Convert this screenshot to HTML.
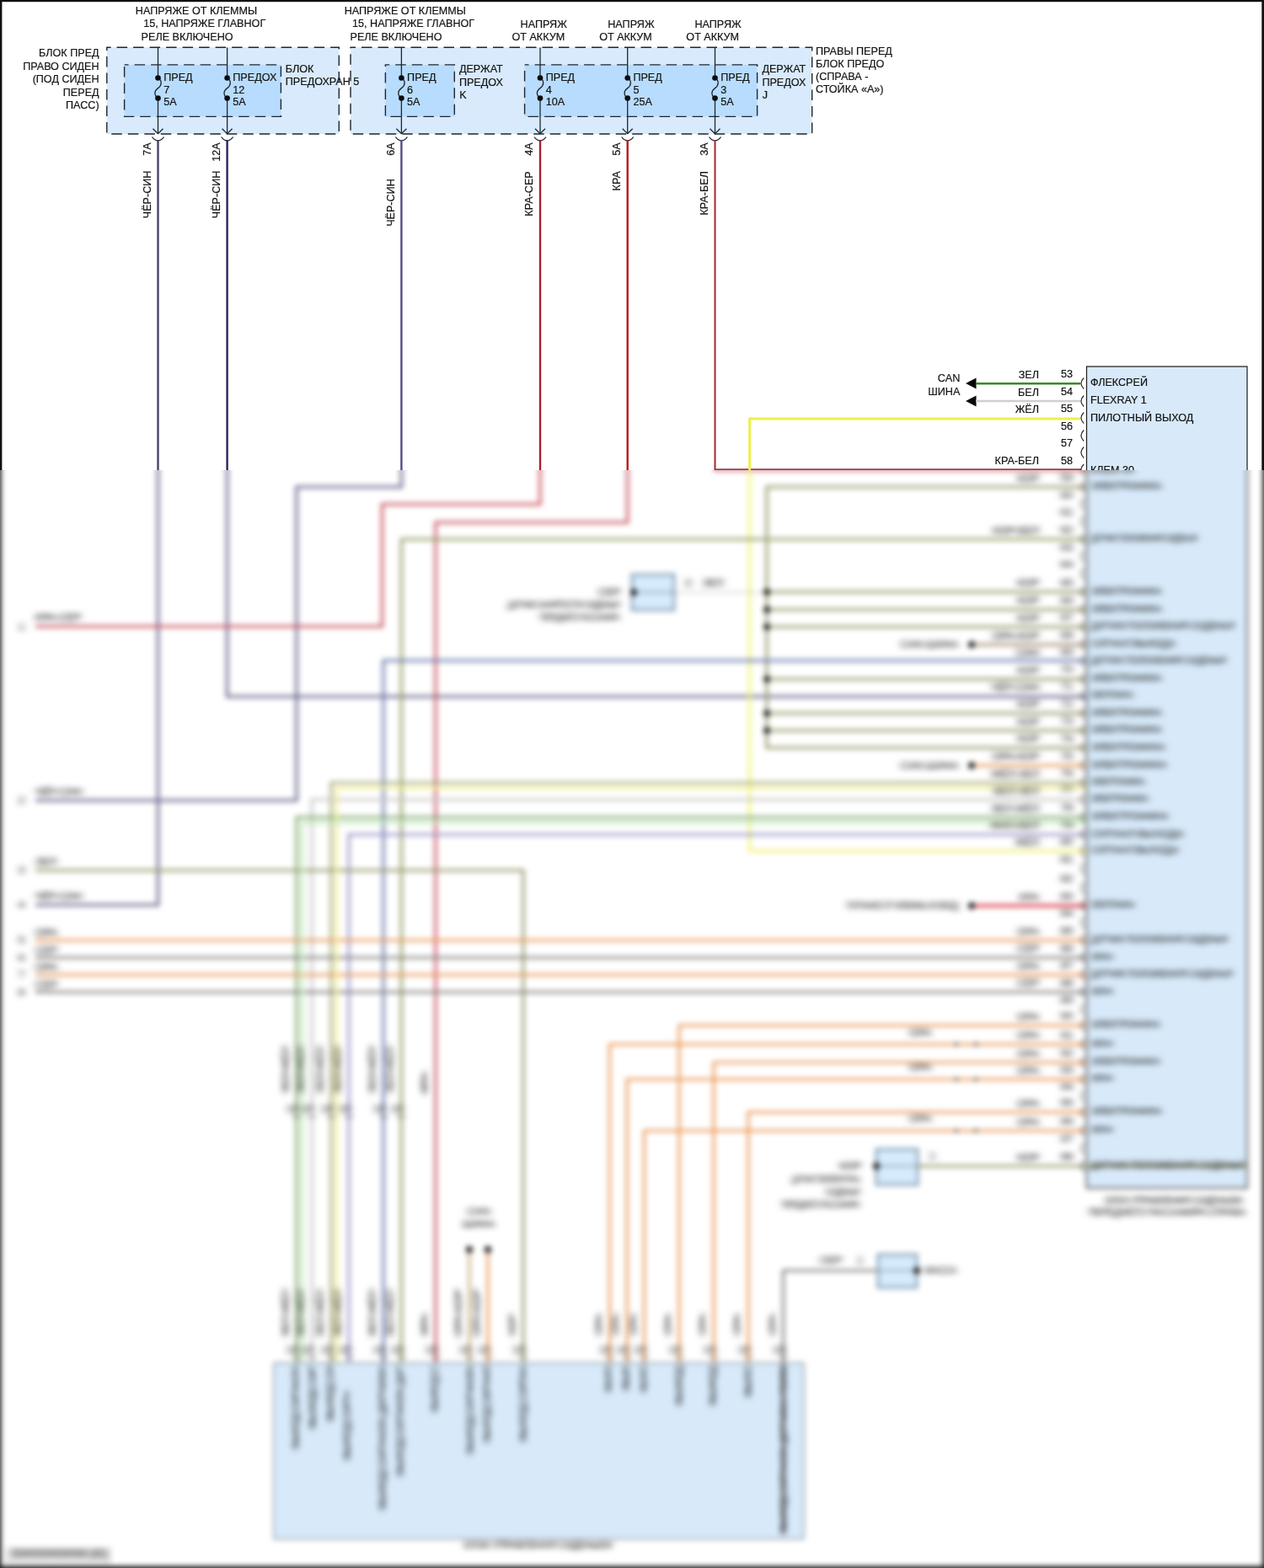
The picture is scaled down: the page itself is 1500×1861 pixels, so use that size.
<!DOCTYPE html>
<html lang="ru"><head><meta charset="utf-8"><title>Схема</title>
<style>
html,body{margin:0;padding:0;background:#fff;}
body{width:1500px;height:1861px;position:relative;overflow:hidden;}
svg{display:block;}
svg text{font-family:"Liberation Sans",Arial,sans-serif;font-size:12.6px;fill:#141414;}
#sharp{position:absolute;left:0;top:0;}
#sharp text{stroke:#141414;stroke-width:0.2px;}
#blurwrap{position:absolute;left:0;top:558px;width:1500px;height:1303px;overflow:hidden;}
#blurwrap svg{position:absolute;left:-40px;top:-598px;filter:blur(3.0px);}
#bt text,#btr text{font-weight:normal;}
</style></head><body>
<svg id="sharp" width="1500" height="1861" viewBox="0 0 1500 1861">
<rect x="0" y="0" width="1500" height="1861" fill="#fff"/>
<rect x="0" y="0" width="1500" height="2.2" fill="#111"/>
<rect x="0" y="0" width="2.4" height="1861" fill="#111"/>
<rect x="1497.3" y="0" width="2.7" height="1861" fill="#111"/>
<rect x="126.8" y="56.2" width="275.5" height="102.8" fill="#d8eafc"/>
<path d="M126.8,56.2 H402.3 V159 H126.8 Z" fill="none" stroke="#1e2630" stroke-width="1.4" stroke-dasharray="12.5 7" stroke-dashoffset="7.7"/>
<rect x="416.0" y="56.2" width="547.7" height="102.8" fill="#d8eafc"/>
<path d="M416.0,56.2 H963.7 V159 H416.0 Z" fill="none" stroke="#1e2630" stroke-width="1.4" stroke-dasharray="12.5 7" stroke-dashoffset="6.5"/>
<rect x="147.6" y="76.9" width="185.79999999999998" height="61.5" fill="#b8dcfe"/>
<path d="M147.6,76.9 H333.4 V138.4 H147.6 Z" fill="none" stroke="#1e2630" stroke-width="1.4" stroke-dasharray="12.5 7" stroke-dashoffset="7.5"/>
<rect x="457.4" y="76.9" width="81.89999999999998" height="61.5" fill="#b8dcfe"/>
<path d="M457.4,76.9 H539.3 V138.4 H457.4 Z" fill="none" stroke="#1e2630" stroke-width="1.4" stroke-dasharray="12.5 7" stroke-dashoffset="7.7"/>
<rect x="622.6" y="76.9" width="276.0" height="61.5" fill="#b8dcfe"/>
<path d="M622.6,76.9 H898.6 V138.4 H622.6 Z" fill="none" stroke="#1e2630" stroke-width="1.4" stroke-dasharray="12.5 7" stroke-dashoffset="7.5"/>
<text x="160.8" y="17.1" fill="#141414">НАПРЯЖЕ ОТ КЛЕММЫ</text>
<text x="170.2" y="32.4" fill="#141414">15, НАПРЯЖЕ ГЛАВНОГ</text>
<text x="167.6" y="47.7" fill="#141414">РЕЛЕ ВКЛЮЧЕНО</text>
<text x="408.70000000000005" y="17.1" fill="#141414">НАПРЯЖЕ ОТ КЛЕММЫ</text>
<text x="418.1" y="32.4" fill="#141414">15, НАПРЯЖЕ ГЛАВНОГ</text>
<text x="415.5" y="47.7" fill="#141414">РЕЛЕ ВКЛЮЧЕНО</text>
<text x="645.2" y="33.0" text-anchor="middle" fill="#141414">НАПРЯЖ</text>
<text x="638.8" y="48.2" text-anchor="middle" fill="#141414">ОТ АККУМ</text>
<text x="748.9000000000001" y="33.0" text-anchor="middle" fill="#141414">НАПРЯЖ</text>
<text x="742.5" y="48.2" text-anchor="middle" fill="#141414">ОТ АККУМ</text>
<text x="852.1" y="33.0" text-anchor="middle" fill="#141414">НАПРЯЖ</text>
<text x="845.6999999999999" y="48.2" text-anchor="middle" fill="#141414">ОТ АККУМ</text>
<text x="117.6" y="67.0" text-anchor="end" fill="#141414">БЛОК ПРЕД</text>
<text x="117.6" y="82.5" text-anchor="end" fill="#141414">ПРАВО СИДЕН</text>
<text x="117.6" y="98.0" text-anchor="end" fill="#141414">(ПОД СИДЕН</text>
<text x="117.6" y="113.5" text-anchor="end" fill="#141414">ПЕРЕД</text>
<text x="117.6" y="129.0" text-anchor="end" fill="#141414">ПАСС)</text>
<text x="338.8" y="85.6" fill="#142030">БЛОК</text>
<text x="338.8" y="101.1" fill="#142030">ПРЕДОХРАН 5</text>
<text x="544.9" y="86.0" fill="#142030">ДЕРЖАТ</text>
<text x="544.9" y="101.5" fill="#142030">ПРЕДОХ</text>
<text x="545.1999999999999" y="117.0" fill="#142030">K</text>
<text x="904.4" y="86.0" fill="#142030">ДЕРЖАТ</text>
<text x="904.4" y="101.5" fill="#142030">ПРЕДОХ</text>
<text x="904.6999999999999" y="117.0" fill="#142030">J</text>
<text x="968.0" y="65.3" fill="#141414">ПРАВЫ ПЕРЕД</text>
<text x="968.0" y="80.35" fill="#141414">БЛОК ПРЕДО</text>
<text x="968.0" y="95.4" fill="#141414">(СПРАВА -</text>
<text x="968.0" y="110.45" fill="#141414">СТОЙКА «A»)</text>
<line x1="187.5" y1="56.5" x2="187.5" y2="92.4" stroke="#1e2630" stroke-width="1.3"/>
<path d="M187.5,92.5 C192.7,95.5 192.1,101.5 187.5,104.6 C182.9,107.8 182.5,113 187.5,116.6" fill="none" stroke="#1e2630" stroke-width="1.3"/>
<line x1="187.5" y1="116.4" x2="187.5" y2="158.6" stroke="#1e2630" stroke-width="1.3"/>
<circle cx="187.5" cy="92.5" r="3.3" fill="#0d0d0d"/>
<circle cx="187.5" cy="116.6" r="3.3" fill="#0d0d0d"/>
<path d="M181.5,152.8 L187.5,158.7 L193.5,152.8" fill="none" stroke="#1e2630" stroke-width="1.3"/>
<path d="M180.5,162.5 Q183.5,166.9 187.5,166.9 Q191.5,166.9 194.5,162.5" fill="none" stroke="#1e2630" stroke-width="1.3"/>
<text x="194.2" y="96.1" fill="#142030">ПРЕД</text>
<text x="194.2" y="111.0" fill="#142030">7</text>
<text x="194.2" y="124.8" fill="#142030">5A</text>
<text transform="translate(178.9,169.3) rotate(-90)" text-anchor="end" fill="#141414">7A</text>
<text transform="translate(178.9,202.6) rotate(-90)" text-anchor="end" fill="#141414">ЧЁР-СИН</text>
<line x1="187.5" y1="166.2" x2="187.5" y2="560" stroke="#4a4468" stroke-width="2.4"/>
<line x1="269.6" y1="56.5" x2="269.6" y2="92.4" stroke="#1e2630" stroke-width="1.3"/>
<path d="M269.6,92.5 C274.8,95.5 274.20000000000005,101.5 269.6,104.6 C265.0,107.8 264.6,113 269.6,116.6" fill="none" stroke="#1e2630" stroke-width="1.3"/>
<line x1="269.6" y1="116.4" x2="269.6" y2="158.6" stroke="#1e2630" stroke-width="1.3"/>
<circle cx="269.6" cy="92.5" r="3.3" fill="#0d0d0d"/>
<circle cx="269.6" cy="116.6" r="3.3" fill="#0d0d0d"/>
<path d="M263.6,152.8 L269.6,158.7 L275.6,152.8" fill="none" stroke="#1e2630" stroke-width="1.3"/>
<path d="M262.6,162.5 Q265.6,166.9 269.6,166.9 Q273.6,166.9 276.6,162.5" fill="none" stroke="#1e2630" stroke-width="1.3"/>
<text x="276.3" y="96.1" fill="#142030">ПРЕДОХ</text>
<text x="276.3" y="111.0" fill="#142030">12</text>
<text x="276.3" y="124.8" fill="#142030">5A</text>
<text transform="translate(261.0,169.3) rotate(-90)" text-anchor="end" fill="#141414">12A</text>
<text transform="translate(261.0,202.6) rotate(-90)" text-anchor="end" fill="#141414">ЧЁР-СИН</text>
<line x1="269.6" y1="166.2" x2="269.6" y2="560" stroke="#28245e" stroke-width="2.4"/>
<line x1="476.4" y1="56.5" x2="476.4" y2="92.4" stroke="#1e2630" stroke-width="1.3"/>
<path d="M476.4,92.5 C481.59999999999997,95.5 481.0,101.5 476.4,104.6 C471.79999999999995,107.8 471.4,113 476.4,116.6" fill="none" stroke="#1e2630" stroke-width="1.3"/>
<line x1="476.4" y1="116.4" x2="476.4" y2="158.6" stroke="#1e2630" stroke-width="1.3"/>
<circle cx="476.4" cy="92.5" r="3.3" fill="#0d0d0d"/>
<circle cx="476.4" cy="116.6" r="3.3" fill="#0d0d0d"/>
<path d="M470.4,152.8 L476.4,158.7 L482.4,152.8" fill="none" stroke="#1e2630" stroke-width="1.3"/>
<path d="M469.4,162.5 Q472.4,166.9 476.4,166.9 Q480.4,166.9 483.4,162.5" fill="none" stroke="#1e2630" stroke-width="1.3"/>
<text x="483.09999999999997" y="96.1" fill="#142030">ПРЕД</text>
<text x="483.09999999999997" y="111.0" fill="#142030">6</text>
<text x="483.09999999999997" y="124.8" fill="#142030">5A</text>
<text transform="translate(467.79999999999995,169.3) rotate(-90)" text-anchor="end" fill="#141414">6A</text>
<text transform="translate(467.79999999999995,212.2) rotate(-90)" text-anchor="end" fill="#141414">ЧЁР-СИН</text>
<line x1="476.4" y1="166.2" x2="476.4" y2="560" stroke="#554c88" stroke-width="2.4"/>
<line x1="641.0" y1="56.5" x2="641.0" y2="92.4" stroke="#1e2630" stroke-width="1.3"/>
<path d="M641.0,92.5 C646.2,95.5 645.6,101.5 641.0,104.6 C636.4,107.8 636.0,113 641.0,116.6" fill="none" stroke="#1e2630" stroke-width="1.3"/>
<line x1="641.0" y1="116.4" x2="641.0" y2="158.6" stroke="#1e2630" stroke-width="1.3"/>
<circle cx="641.0" cy="92.5" r="3.3" fill="#0d0d0d"/>
<circle cx="641.0" cy="116.6" r="3.3" fill="#0d0d0d"/>
<path d="M635.0,152.8 L641.0,158.7 L647.0,152.8" fill="none" stroke="#1e2630" stroke-width="1.3"/>
<path d="M634.0,162.5 Q637.0,166.9 641.0,166.9 Q645.0,166.9 648.0,162.5" fill="none" stroke="#1e2630" stroke-width="1.3"/>
<text x="647.7" y="96.1" fill="#142030">ПРЕД</text>
<text x="647.7" y="111.0" fill="#142030">4</text>
<text x="647.7" y="124.8" fill="#142030">10A</text>
<text transform="translate(632.4,169.3) rotate(-90)" text-anchor="end" fill="#141414">4A</text>
<text transform="translate(632.4,203.3) rotate(-90)" text-anchor="end" fill="#141414">КРА-СЕР</text>
<line x1="641.0" y1="166.2" x2="641.0" y2="560" stroke="#a82030" stroke-width="2.4"/>
<line x1="744.7" y1="56.5" x2="744.7" y2="92.4" stroke="#1e2630" stroke-width="1.3"/>
<path d="M744.7,92.5 C749.9000000000001,95.5 749.3000000000001,101.5 744.7,104.6 C740.1,107.8 739.7,113 744.7,116.6" fill="none" stroke="#1e2630" stroke-width="1.3"/>
<line x1="744.7" y1="116.4" x2="744.7" y2="158.6" stroke="#1e2630" stroke-width="1.3"/>
<circle cx="744.7" cy="92.5" r="3.3" fill="#0d0d0d"/>
<circle cx="744.7" cy="116.6" r="3.3" fill="#0d0d0d"/>
<path d="M738.7,152.8 L744.7,158.7 L750.7,152.8" fill="none" stroke="#1e2630" stroke-width="1.3"/>
<path d="M737.7,162.5 Q740.7,166.9 744.7,166.9 Q748.7,166.9 751.7,162.5" fill="none" stroke="#1e2630" stroke-width="1.3"/>
<text x="751.4000000000001" y="96.1" fill="#142030">ПРЕД</text>
<text x="751.4000000000001" y="111.0" fill="#142030">5</text>
<text x="751.4000000000001" y="124.8" fill="#142030">25A</text>
<text transform="translate(736.1,169.3) rotate(-90)" text-anchor="end" fill="#141414">5A</text>
<text transform="translate(736.1,203.1) rotate(-90)" text-anchor="end" fill="#141414">КРА</text>
<line x1="744.7" y1="166.2" x2="744.7" y2="560" stroke="#b51a16" stroke-width="2.4"/>
<line x1="848.5" y1="56.5" x2="848.5" y2="92.4" stroke="#1e2630" stroke-width="1.3"/>
<path d="M848.5,92.5 C853.7,95.5 853.1,101.5 848.5,104.6 C843.9,107.8 843.5,113 848.5,116.6" fill="none" stroke="#1e2630" stroke-width="1.3"/>
<line x1="848.5" y1="116.4" x2="848.5" y2="158.6" stroke="#1e2630" stroke-width="1.3"/>
<circle cx="848.5" cy="92.5" r="3.3" fill="#0d0d0d"/>
<circle cx="848.5" cy="116.6" r="3.3" fill="#0d0d0d"/>
<path d="M842.5,152.8 L848.5,158.7 L854.5,152.8" fill="none" stroke="#1e2630" stroke-width="1.3"/>
<path d="M841.5,162.5 Q844.5,166.9 848.5,166.9 Q852.5,166.9 855.5,162.5" fill="none" stroke="#1e2630" stroke-width="1.3"/>
<text x="855.2" y="96.1" fill="#142030">ПРЕД</text>
<text x="855.2" y="111.0" fill="#142030">3</text>
<text x="855.2" y="124.8" fill="#142030">5A</text>
<text transform="translate(839.9,169.3) rotate(-90)" text-anchor="end" fill="#141414">3A</text>
<text transform="translate(839.9,203.1) rotate(-90)" text-anchor="end" fill="#141414">КРА-БЕЛ</text>
<line x1="848.5" y1="166.2" x2="848.5" y2="558" stroke="#a02a2c" stroke-width="2.0"/>
<line x1="848.5" y1="557.2" x2="1283" y2="557.2" stroke="#8e4446" stroke-width="1.7"/>
<rect x="1289.5" y="435" width="190.5" height="975" fill="#d8eafa" stroke="#222" stroke-width="1.25"/>
<text x="1139.3" y="453.3" text-anchor="end" fill="#141414">CAN</text>
<text x="1139.3" y="468.8" text-anchor="end" fill="#141414">ШИНА</text>
<path d="M1146,455 L1158.5,448.4 L1158.5,461.6 Z" fill="#0a0a0a"/>
<path d="M1146,476 L1158.5,469.4 L1158.5,482.6 Z" fill="#0a0a0a"/>
<line x1="1158" y1="455.3" x2="1282" y2="455.3" stroke="#3a8a22" stroke-width="2.6"/>
<line x1="1158" y1="476" x2="1282" y2="476" stroke="#cfcfcf" stroke-width="2.6"/>
<line x1="889.6" y1="497" x2="1282" y2="497" stroke="#eef048" stroke-width="2.9"/>
<line x1="889.6" y1="495.5" x2="889.6" y2="562" stroke="#eef048" stroke-width="2.9"/>
<text x="1259.0" y="448" fill="#141414">53</text>
<text x="1233.0" y="448.5" text-anchor="end" fill="#141414">ЗЕЛ</text>
<path d="M1286.2,448.5 Q1279.6,455 1286.2,461.5" fill="none" stroke="#222" stroke-width="1.2"/>
<text x="1259.0" y="469" fill="#141414">54</text>
<text x="1233.0" y="469.5" text-anchor="end" fill="#141414">БЕЛ</text>
<path d="M1286.2,469.5 Q1279.6,476 1286.2,482.5" fill="none" stroke="#222" stroke-width="1.2"/>
<text x="1259.0" y="489" fill="#141414">55</text>
<text x="1233.0" y="489.5" text-anchor="end" fill="#141414">ЖЁЛ</text>
<path d="M1286.2,489.5 Q1279.6,496 1286.2,502.5" fill="none" stroke="#222" stroke-width="1.2"/>
<text x="1259.0" y="510" fill="#141414">56</text>
<path d="M1286.2,510.5 Q1279.6,517 1286.2,523.5" fill="none" stroke="#222" stroke-width="1.2"/>
<text x="1259.0" y="530" fill="#141414">57</text>
<path d="M1286.2,530.5 Q1279.6,537 1286.2,543.5" fill="none" stroke="#222" stroke-width="1.2"/>
<text x="1259.0" y="550.5" fill="#141414">58</text>
<text x="1233.0" y="551.0" text-anchor="end" fill="#141414">КРА-БЕЛ</text>
<path d="M1286.2,551.0 Q1279.6,557.5 1286.2,564.0" fill="none" stroke="#222" stroke-width="1.2"/>
<text x="1294.0" y="458.0" fill="#142030">ФЛЕКСРЕЙ</text>
<text x="1294.0" y="478.8" fill="#142030">FLEXRAY 1</text>
<text x="1294.0" y="499.6" fill="#142030">ПИЛОТНЫЙ ВЫХОД</text>
<text x="1294.0" y="561.5" fill="#142030">КЛЕМ 30</text>
</svg>
<div id="blurwrap"><svg width="1580" height="1941" viewBox="-40 -40 1580 1941">
<defs><filter id="tb" x="-5%" y="-5%" width="110%" height="110%"><feGaussianBlur stdDeviation="3.0 0.8"/></filter>
<filter id="tbr" x="-5%" y="-5%" width="110%" height="110%"><feGaussianBlur stdDeviation="0.8 3.0"/></filter></defs>
<rect x="-40" y="-40" width="1580" height="1941" fill="#ffffff"/>
<rect x="126.8" y="56.2" width="275.5" height="102.8" fill="#d8eafc"/>
<path d="M126.8,56.2 H402.3 V159 H126.8 Z" fill="none" stroke="#1e2630" stroke-width="1.4" stroke-dasharray="12.5 7" stroke-dashoffset="7.7"/>
<rect x="416.0" y="56.2" width="547.7" height="102.8" fill="#d8eafc"/>
<path d="M416.0,56.2 H963.7 V159 H416.0 Z" fill="none" stroke="#1e2630" stroke-width="1.4" stroke-dasharray="12.5 7" stroke-dashoffset="6.5"/>
<rect x="147.6" y="76.9" width="185.79999999999998" height="61.5" fill="#b8dcfe"/>
<path d="M147.6,76.9 H333.4 V138.4 H147.6 Z" fill="none" stroke="#1e2630" stroke-width="1.4" stroke-dasharray="12.5 7" stroke-dashoffset="7.5"/>
<rect x="457.4" y="76.9" width="81.89999999999998" height="61.5" fill="#b8dcfe"/>
<path d="M457.4,76.9 H539.3 V138.4 H457.4 Z" fill="none" stroke="#1e2630" stroke-width="1.4" stroke-dasharray="12.5 7" stroke-dashoffset="7.7"/>
<rect x="622.6" y="76.9" width="276.0" height="61.5" fill="#b8dcfe"/>
<path d="M622.6,76.9 H898.6 V138.4 H622.6 Z" fill="none" stroke="#1e2630" stroke-width="1.4" stroke-dasharray="12.5 7" stroke-dashoffset="7.5"/>
<line x1="187.5" y1="56.5" x2="187.5" y2="92.4" stroke="#1e2630" stroke-width="1.3"/>
<path d="M187.5,92.5 C192.7,95.5 192.1,101.5 187.5,104.6 C182.9,107.8 182.5,113 187.5,116.6" fill="none" stroke="#1e2630" stroke-width="1.3"/>
<line x1="187.5" y1="116.4" x2="187.5" y2="158.6" stroke="#1e2630" stroke-width="1.3"/>
<circle cx="187.5" cy="92.5" r="3.3" fill="#0d0d0d"/>
<circle cx="187.5" cy="116.6" r="3.3" fill="#0d0d0d"/>
<path d="M181.5,152.8 L187.5,158.7 L193.5,152.8" fill="none" stroke="#1e2630" stroke-width="1.3"/>
<path d="M180.5,162.5 Q183.5,166.9 187.5,166.9 Q191.5,166.9 194.5,162.5" fill="none" stroke="#1e2630" stroke-width="1.3"/>
<line x1="187.5" y1="166.2" x2="187.5" y2="560" stroke="#4a4468" stroke-width="2.4"/>
<line x1="269.6" y1="56.5" x2="269.6" y2="92.4" stroke="#1e2630" stroke-width="1.3"/>
<path d="M269.6,92.5 C274.8,95.5 274.20000000000005,101.5 269.6,104.6 C265.0,107.8 264.6,113 269.6,116.6" fill="none" stroke="#1e2630" stroke-width="1.3"/>
<line x1="269.6" y1="116.4" x2="269.6" y2="158.6" stroke="#1e2630" stroke-width="1.3"/>
<circle cx="269.6" cy="92.5" r="3.3" fill="#0d0d0d"/>
<circle cx="269.6" cy="116.6" r="3.3" fill="#0d0d0d"/>
<path d="M263.6,152.8 L269.6,158.7 L275.6,152.8" fill="none" stroke="#1e2630" stroke-width="1.3"/>
<path d="M262.6,162.5 Q265.6,166.9 269.6,166.9 Q273.6,166.9 276.6,162.5" fill="none" stroke="#1e2630" stroke-width="1.3"/>
<line x1="269.6" y1="166.2" x2="269.6" y2="560" stroke="#28245e" stroke-width="2.4"/>
<line x1="476.4" y1="56.5" x2="476.4" y2="92.4" stroke="#1e2630" stroke-width="1.3"/>
<path d="M476.4,92.5 C481.59999999999997,95.5 481.0,101.5 476.4,104.6 C471.79999999999995,107.8 471.4,113 476.4,116.6" fill="none" stroke="#1e2630" stroke-width="1.3"/>
<line x1="476.4" y1="116.4" x2="476.4" y2="158.6" stroke="#1e2630" stroke-width="1.3"/>
<circle cx="476.4" cy="92.5" r="3.3" fill="#0d0d0d"/>
<circle cx="476.4" cy="116.6" r="3.3" fill="#0d0d0d"/>
<path d="M470.4,152.8 L476.4,158.7 L482.4,152.8" fill="none" stroke="#1e2630" stroke-width="1.3"/>
<path d="M469.4,162.5 Q472.4,166.9 476.4,166.9 Q480.4,166.9 483.4,162.5" fill="none" stroke="#1e2630" stroke-width="1.3"/>
<line x1="476.4" y1="166.2" x2="476.4" y2="560" stroke="#554c88" stroke-width="2.4"/>
<line x1="641.0" y1="56.5" x2="641.0" y2="92.4" stroke="#1e2630" stroke-width="1.3"/>
<path d="M641.0,92.5 C646.2,95.5 645.6,101.5 641.0,104.6 C636.4,107.8 636.0,113 641.0,116.6" fill="none" stroke="#1e2630" stroke-width="1.3"/>
<line x1="641.0" y1="116.4" x2="641.0" y2="158.6" stroke="#1e2630" stroke-width="1.3"/>
<circle cx="641.0" cy="92.5" r="3.3" fill="#0d0d0d"/>
<circle cx="641.0" cy="116.6" r="3.3" fill="#0d0d0d"/>
<path d="M635.0,152.8 L641.0,158.7 L647.0,152.8" fill="none" stroke="#1e2630" stroke-width="1.3"/>
<path d="M634.0,162.5 Q637.0,166.9 641.0,166.9 Q645.0,166.9 648.0,162.5" fill="none" stroke="#1e2630" stroke-width="1.3"/>
<line x1="641.0" y1="166.2" x2="641.0" y2="560" stroke="#a82030" stroke-width="2.4"/>
<line x1="744.7" y1="56.5" x2="744.7" y2="92.4" stroke="#1e2630" stroke-width="1.3"/>
<path d="M744.7,92.5 C749.9000000000001,95.5 749.3000000000001,101.5 744.7,104.6 C740.1,107.8 739.7,113 744.7,116.6" fill="none" stroke="#1e2630" stroke-width="1.3"/>
<line x1="744.7" y1="116.4" x2="744.7" y2="158.6" stroke="#1e2630" stroke-width="1.3"/>
<circle cx="744.7" cy="92.5" r="3.3" fill="#0d0d0d"/>
<circle cx="744.7" cy="116.6" r="3.3" fill="#0d0d0d"/>
<path d="M738.7,152.8 L744.7,158.7 L750.7,152.8" fill="none" stroke="#1e2630" stroke-width="1.3"/>
<path d="M737.7,162.5 Q740.7,166.9 744.7,166.9 Q748.7,166.9 751.7,162.5" fill="none" stroke="#1e2630" stroke-width="1.3"/>
<line x1="744.7" y1="166.2" x2="744.7" y2="560" stroke="#b51a16" stroke-width="2.4"/>
<line x1="848.5" y1="56.5" x2="848.5" y2="92.4" stroke="#1e2630" stroke-width="1.3"/>
<path d="M848.5,92.5 C853.7,95.5 853.1,101.5 848.5,104.6 C843.9,107.8 843.5,113 848.5,116.6" fill="none" stroke="#1e2630" stroke-width="1.3"/>
<line x1="848.5" y1="116.4" x2="848.5" y2="158.6" stroke="#1e2630" stroke-width="1.3"/>
<circle cx="848.5" cy="92.5" r="3.3" fill="#0d0d0d"/>
<circle cx="848.5" cy="116.6" r="3.3" fill="#0d0d0d"/>
<path d="M842.5,152.8 L848.5,158.7 L854.5,152.8" fill="none" stroke="#1e2630" stroke-width="1.3"/>
<path d="M841.5,162.5 Q844.5,166.9 848.5,166.9 Q852.5,166.9 855.5,162.5" fill="none" stroke="#1e2630" stroke-width="1.3"/>
<line x1="848.5" y1="166.2" x2="848.5" y2="558" stroke="#a02a2c" stroke-width="2.0"/>
<line x1="848.5" y1="557.2" x2="1283" y2="557.2" stroke="#8e4446" stroke-width="1.7"/>
<rect x="1289.5" y="435" width="190.5" height="975" fill="#d8eafa" stroke="#222" stroke-width="1.25"/>
<path d="M1146,455 L1158.5,448.4 L1158.5,461.6 Z" fill="#0a0a0a"/>
<path d="M1146,476 L1158.5,469.4 L1158.5,482.6 Z" fill="#0a0a0a"/>
<line x1="1158" y1="455.3" x2="1282" y2="455.3" stroke="#3a8a22" stroke-width="2.6"/>
<line x1="1158" y1="476" x2="1282" y2="476" stroke="#cfcfcf" stroke-width="2.6"/>
<line x1="889.6" y1="497" x2="1282" y2="497" stroke="#eef048" stroke-width="2.9"/>
<line x1="889.6" y1="495.5" x2="889.6" y2="562" stroke="#eef048" stroke-width="2.9"/>
<path d="M1286.2,448.5 Q1279.6,455 1286.2,461.5" fill="none" stroke="#222" stroke-width="1.2"/>
<path d="M1286.2,469.5 Q1279.6,476 1286.2,482.5" fill="none" stroke="#222" stroke-width="1.2"/>
<path d="M1286.2,489.5 Q1279.6,496 1286.2,502.5" fill="none" stroke="#222" stroke-width="1.2"/>
<path d="M1286.2,510.5 Q1279.6,517 1286.2,523.5" fill="none" stroke="#222" stroke-width="1.2"/>
<path d="M1286.2,530.5 Q1279.6,537 1286.2,543.5" fill="none" stroke="#222" stroke-width="1.2"/>
<path d="M1286.2,551.0 Q1279.6,557.5 1286.2,564.0" fill="none" stroke="#222" stroke-width="1.2"/>
<rect x="-40" y="-40" width="41.2" height="1941" fill="#111"/>
<rect x="1498.6" y="-40" width="41.4" height="1941" fill="#111"/>
<rect x="-40" y="1858.9" width="1580" height="42" fill="#111"/>
<rect x="1289.5" y="435" width="190.5" height="975" fill="#d8eafa" stroke="#2b2b2b" stroke-width="1.5"/>
<rect x="325" y="1617.5" width="629" height="209" fill="#d8eafa" stroke="#6a7884" stroke-width="1.2"/>
<rect x="750" y="682" width="50" height="42" fill="#d6ecfc" stroke="#8aa4bc" stroke-width="3.2"/>
<rect x="1040" y="1364" width="49" height="42" fill="#d6ecfc" stroke="#8aa4bc" stroke-width="3.2"/>
<rect x="1042" y="1489" width="46" height="39" fill="#d6ecfc" stroke="#8aa4bc" stroke-width="3.2"/>
<line x1="752" y1="703" x2="802" y2="703" stroke="#7a8a9a" stroke-width="1.6"/>
<line x1="1040" y1="1384" x2="1090" y2="1384" stroke="#7a8a9a" stroke-width="1.6"/>
<line x1="1040" y1="1508" x2="1088" y2="1508" stroke="#7a8a9a" stroke-width="1.6"/>
<polyline points="187.5,540 187.5,1074 42,1074" fill="none" stroke="#64628a" stroke-width="3.1" stroke-linejoin="miter" stroke-linecap="butt"/>
<polyline points="269.6,540 269.6,826.8 1289,826.8" fill="none" stroke="#64628a" stroke-width="3.1" stroke-linejoin="miter" stroke-linecap="butt"/>
<polyline points="476.4,540 476.4,578 352,578 352,950 42,950" fill="none" stroke="#64628a" stroke-width="3.1" stroke-linejoin="miter" stroke-linecap="butt"/>
<polyline points="641,540 641,598.5 453.5,598.5 453.5,743.5 42,743.5" fill="none" stroke="#c8505e" stroke-width="3.1" stroke-linejoin="miter" stroke-linecap="butt"/>
<polyline points="744.7,540 744.7,620 517,620 517,1617" fill="none" stroke="#c8505e" stroke-width="3.1" stroke-linejoin="miter" stroke-linecap="butt"/>
<polyline points="848.5,540 848.5,557.5 1289,557.5" fill="none" stroke="#c8505e" stroke-width="3.1" stroke-linejoin="miter" stroke-linecap="butt"/>
<polyline points="889.6,497 889.6,1010 1289,1010" fill="none" stroke="#f2f070" stroke-width="3.1" stroke-linejoin="miter" stroke-linecap="butt"/>
<polyline points="1289,578 910,578 910,887.5 1289,887.5" fill="none" stroke="#96986a" stroke-width="3.1" stroke-linejoin="miter" stroke-linecap="butt"/>
<polyline points="476.4,1617 476.4,640 1289,640" fill="none" stroke="#909f62" stroke-width="3.1" stroke-linejoin="miter" stroke-linecap="butt"/>
<polyline points="455,1617 455,784 1289,784" fill="none" stroke="#6a78ae" stroke-width="3.1" stroke-linejoin="miter" stroke-linecap="butt"/>
<polyline points="393,1617 393,929 1289,929" fill="none" stroke="#a8aa78" stroke-width="3.1" stroke-linejoin="miter" stroke-linecap="butt"/>
<polyline points="370,1617 370,949 1289,949" fill="none" stroke="#c8c8c8" stroke-width="3.1" stroke-linejoin="miter" stroke-linecap="butt"/>
<polyline points="352,1617 352,970 1289,970" fill="none" stroke="#80a870" stroke-width="3.1" stroke-linejoin="miter" stroke-linecap="butt"/>
<polyline points="414,1617 414,990.5 1289,990.5" fill="none" stroke="#9a94c8" stroke-width="3.1" stroke-linejoin="miter" stroke-linecap="butt"/>
<polyline points="42,1033 621,1033 621,1617" fill="none" stroke="#96986a" stroke-width="3.1" stroke-linejoin="miter" stroke-linecap="butt"/>
<polyline points="42,1116 1289,1116" fill="none" stroke="#eb9a5c" stroke-width="3.1" stroke-linejoin="miter" stroke-linecap="butt"/>
<polyline points="42,1136.5 1289,1136.5" fill="none" stroke="#858585" stroke-width="3.1" stroke-linejoin="miter" stroke-linecap="butt"/>
<polyline points="42,1157 1289,1157" fill="none" stroke="#eb9a5c" stroke-width="3.1" stroke-linejoin="miter" stroke-linecap="butt"/>
<polyline points="42,1177.5 1289,1177.5" fill="none" stroke="#858585" stroke-width="3.1" stroke-linejoin="miter" stroke-linecap="butt"/>
<polyline points="806,1617 806,1217 1289,1217" fill="none" stroke="#eb9a5c" stroke-width="3.1" stroke-linejoin="miter" stroke-linecap="butt"/>
<polyline points="723.5,1617 723.5,1239.5 1289,1239.5" fill="none" stroke="#eb9a5c" stroke-width="3.1" stroke-linejoin="miter" stroke-linecap="butt"/>
<polyline points="847,1617 847,1261 1289,1261" fill="none" stroke="#eb9a5c" stroke-width="3.1" stroke-linejoin="miter" stroke-linecap="butt"/>
<polyline points="744,1617 744,1281 1289,1281" fill="none" stroke="#eb9a5c" stroke-width="3.1" stroke-linejoin="miter" stroke-linecap="butt"/>
<polyline points="888,1617 888,1320 1289,1320" fill="none" stroke="#eb9a5c" stroke-width="3.1" stroke-linejoin="miter" stroke-linecap="butt"/>
<polyline points="764.5,1617 764.5,1342 1289,1342" fill="none" stroke="#eb9a5c" stroke-width="3.1" stroke-linejoin="miter" stroke-linecap="butt"/>
<polyline points="929.5,1820 929.5,1508 1040,1508" fill="none" stroke="#858585" stroke-width="3.1" stroke-linejoin="miter" stroke-linecap="butt"/>
<polyline points="557,1483 557,1617" fill="none" stroke="#c8b080" stroke-width="3.1" stroke-linejoin="miter" stroke-linecap="butt"/>
<polyline points="579,1483 579,1617" fill="none" stroke="#eb9a5c" stroke-width="3.1" stroke-linejoin="miter" stroke-linecap="butt"/>
<polyline points="399.5,1617 399.5,935.5 1289,935.5" fill="none" stroke="#f4ee90" stroke-width="3.0" stroke-linejoin="miter" stroke-linecap="butt"/>
<polyline points="359,1617 359,976.5 1289,976.5" fill="none" stroke="#c0e8b8" stroke-width="3.0" stroke-linejoin="miter" stroke-linecap="butt"/>
<line x1="910" y1="702.5" x2="1289" y2="702.5" stroke="#96986a" stroke-width="3.1"/>
<line x1="910" y1="723.5" x2="1289" y2="723.5" stroke="#96986a" stroke-width="3.1"/>
<line x1="910" y1="744" x2="1289" y2="744" stroke="#96986a" stroke-width="3.1"/>
<line x1="910" y1="806" x2="1289" y2="806" stroke="#96986a" stroke-width="3.1"/>
<line x1="910" y1="846.5" x2="1289" y2="846.5" stroke="#96986a" stroke-width="3.1"/>
<line x1="910" y1="867" x2="1289" y2="867" stroke="#96986a" stroke-width="3.1"/>
<line x1="1153" y1="765" x2="1289" y2="765" stroke="#a08a70" stroke-width="3.1"/>
<line x1="1153" y1="908.5" x2="1289" y2="908.5" stroke="#eb9a5c" stroke-width="3.1"/>
<line x1="1153" y1="1075" x2="1289" y2="1075" stroke="#d83848" stroke-width="3.4"/>
<line x1="1090" y1="1384" x2="1480" y2="1384" stroke="#96986a" stroke-width="3.1"/>
<line x1="802" y1="703" x2="910" y2="703" stroke="#c8c8c8" stroke-width="1.5"/>
<circle cx="910" cy="702.5" r="3.8" fill="#111"/>
<circle cx="910" cy="723.5" r="3.8" fill="#111"/>
<circle cx="910" cy="744" r="3.8" fill="#111"/>
<circle cx="910" cy="806" r="3.8" fill="#111"/>
<circle cx="910" cy="846.5" r="3.8" fill="#111"/>
<circle cx="910" cy="867" r="3.8" fill="#111"/>
<circle cx="1153" cy="765" r="4.2" fill="#222"/>
<circle cx="1153" cy="908.5" r="4.2" fill="#222"/>
<circle cx="1153" cy="1075" r="4.2" fill="#222"/>
<circle cx="752" cy="703" r="4.2" fill="#222"/>
<circle cx="1040" cy="1384" r="4.2" fill="#222"/>
<circle cx="1088" cy="1508" r="4.2" fill="#222"/>
<circle cx="557" cy="1483" r="4.2" fill="#222"/>
<circle cx="579" cy="1483" r="4.2" fill="#222"/>
<path d="M1286.2,571.5 Q1279.6,578 1286.2,584.5" fill="none" stroke="#333" stroke-width="1.2"/>
<path d="M1286.2,592.0 Q1279.6,598.5 1286.2,605.0" fill="none" stroke="#333" stroke-width="1.2"/>
<path d="M1286.2,612.5 Q1279.6,619 1286.2,625.5" fill="none" stroke="#333" stroke-width="1.2"/>
<path d="M1286.2,633.5 Q1279.6,640 1286.2,646.5" fill="none" stroke="#333" stroke-width="1.2"/>
<path d="M1286.2,654.0 Q1279.6,660.5 1286.2,667.0" fill="none" stroke="#333" stroke-width="1.2"/>
<path d="M1286.2,674.5 Q1279.6,681 1286.2,687.5" fill="none" stroke="#333" stroke-width="1.2"/>
<path d="M1286.2,696.0 Q1279.6,702.5 1286.2,709.0" fill="none" stroke="#333" stroke-width="1.2"/>
<path d="M1286.2,717.0 Q1279.6,723.5 1286.2,730.0" fill="none" stroke="#333" stroke-width="1.2"/>
<path d="M1286.2,737.5 Q1279.6,744 1286.2,750.5" fill="none" stroke="#333" stroke-width="1.2"/>
<path d="M1286.2,758.5 Q1279.6,765 1286.2,771.5" fill="none" stroke="#333" stroke-width="1.2"/>
<path d="M1286.2,778.5 Q1279.6,785 1286.2,791.5" fill="none" stroke="#333" stroke-width="1.2"/>
<path d="M1286.2,799.5 Q1279.6,806 1286.2,812.5" fill="none" stroke="#333" stroke-width="1.2"/>
<path d="M1286.2,819.5 Q1279.6,826 1286.2,832.5" fill="none" stroke="#333" stroke-width="1.2"/>
<path d="M1286.2,840.0 Q1279.6,846.5 1286.2,853.0" fill="none" stroke="#333" stroke-width="1.2"/>
<path d="M1286.2,860.5 Q1279.6,867 1286.2,873.5" fill="none" stroke="#333" stroke-width="1.2"/>
<path d="M1286.2,881.0 Q1279.6,887.5 1286.2,894.0" fill="none" stroke="#333" stroke-width="1.2"/>
<path d="M1286.2,902.0 Q1279.6,908.5 1286.2,915.0" fill="none" stroke="#333" stroke-width="1.2"/>
<path d="M1286.2,922.5 Q1279.6,929 1286.2,935.5" fill="none" stroke="#333" stroke-width="1.2"/>
<path d="M1286.2,942.5 Q1279.6,949 1286.2,955.5" fill="none" stroke="#333" stroke-width="1.2"/>
<path d="M1286.2,963.5 Q1279.6,970 1286.2,976.5" fill="none" stroke="#333" stroke-width="1.2"/>
<path d="M1286.2,984.0 Q1279.6,990.5 1286.2,997.0" fill="none" stroke="#333" stroke-width="1.2"/>
<path d="M1286.2,1003.5 Q1279.6,1010 1286.2,1016.5" fill="none" stroke="#333" stroke-width="1.2"/>
<path d="M1286.2,1024.5 Q1279.6,1031 1286.2,1037.5" fill="none" stroke="#333" stroke-width="1.2"/>
<path d="M1286.2,1047.5 Q1279.6,1054 1286.2,1060.5" fill="none" stroke="#333" stroke-width="1.2"/>
<path d="M1286.2,1068.5 Q1279.6,1075 1286.2,1081.5" fill="none" stroke="#333" stroke-width="1.2"/>
<path d="M1286.2,1088.5 Q1279.6,1095 1286.2,1101.5" fill="none" stroke="#333" stroke-width="1.2"/>
<path d="M1286.2,1109.5 Q1279.6,1116 1286.2,1122.5" fill="none" stroke="#333" stroke-width="1.2"/>
<path d="M1286.2,1130.0 Q1279.6,1136.5 1286.2,1143.0" fill="none" stroke="#333" stroke-width="1.2"/>
<path d="M1286.2,1150.5 Q1279.6,1157 1286.2,1163.5" fill="none" stroke="#333" stroke-width="1.2"/>
<path d="M1286.2,1171.0 Q1279.6,1177.5 1286.2,1184.0" fill="none" stroke="#333" stroke-width="1.2"/>
<path d="M1286.2,1191.5 Q1279.6,1198 1286.2,1204.5" fill="none" stroke="#333" stroke-width="1.2"/>
<path d="M1286.2,1210.5 Q1279.6,1217 1286.2,1223.5" fill="none" stroke="#333" stroke-width="1.2"/>
<path d="M1286.2,1233.0 Q1279.6,1239.5 1286.2,1246.0" fill="none" stroke="#333" stroke-width="1.2"/>
<path d="M1286.2,1254.5 Q1279.6,1261 1286.2,1267.5" fill="none" stroke="#333" stroke-width="1.2"/>
<path d="M1286.2,1274.5 Q1279.6,1281 1286.2,1287.5" fill="none" stroke="#333" stroke-width="1.2"/>
<path d="M1286.2,1294.5 Q1279.6,1301 1286.2,1307.5" fill="none" stroke="#333" stroke-width="1.2"/>
<path d="M1286.2,1313.5 Q1279.6,1320 1286.2,1326.5" fill="none" stroke="#333" stroke-width="1.2"/>
<path d="M1286.2,1335.5 Q1279.6,1342 1286.2,1348.5" fill="none" stroke="#333" stroke-width="1.2"/>
<path d="M1286.2,1356.5 Q1279.6,1363 1286.2,1369.5" fill="none" stroke="#333" stroke-width="1.2"/>
<path d="M1286.2,1377.5 Q1279.6,1384 1286.2,1390.5" fill="none" stroke="#333" stroke-width="1.2"/>
<circle cx="1135" cy="1239.5" r="2.2" fill="#555"/>
<circle cx="1158" cy="1239.5" r="2.2" fill="#555"/>
<circle cx="1135" cy="1281" r="2.2" fill="#555"/>
<circle cx="1158" cy="1281" r="2.2" fill="#555"/>
<circle cx="1135" cy="1342" r="2.2" fill="#555"/>
<circle cx="1158" cy="1342" r="2.2" fill="#555"/>
<path d="M346,1609 Q352,1614 358,1609" fill="none" stroke="#444" stroke-width="1"/>
<path d="M364,1609 Q370,1614 376,1609" fill="none" stroke="#444" stroke-width="1"/>
<path d="M387,1609 Q393,1614 399,1609" fill="none" stroke="#444" stroke-width="1"/>
<path d="M408,1609 Q414,1614 420,1609" fill="none" stroke="#444" stroke-width="1"/>
<path d="M449,1609 Q455,1614 461,1609" fill="none" stroke="#444" stroke-width="1"/>
<path d="M470,1609 Q476,1614 482,1609" fill="none" stroke="#444" stroke-width="1"/>
<path d="M511,1609 Q517,1614 523,1609" fill="none" stroke="#444" stroke-width="1"/>
<path d="M551,1609 Q557,1614 563,1609" fill="none" stroke="#444" stroke-width="1"/>
<path d="M573,1609 Q579,1614 585,1609" fill="none" stroke="#444" stroke-width="1"/>
<path d="M614.5,1609 Q620.5,1614 626.5,1609" fill="none" stroke="#444" stroke-width="1"/>
<path d="M717.5,1609 Q723.5,1614 729.5,1609" fill="none" stroke="#444" stroke-width="1"/>
<path d="M738,1609 Q744,1614 750,1609" fill="none" stroke="#444" stroke-width="1"/>
<path d="M758.5,1609 Q764.5,1614 770.5,1609" fill="none" stroke="#444" stroke-width="1"/>
<path d="M800,1609 Q806,1614 812,1609" fill="none" stroke="#444" stroke-width="1"/>
<path d="M841,1609 Q847,1614 853,1609" fill="none" stroke="#444" stroke-width="1"/>
<path d="M882,1609 Q888,1614 894,1609" fill="none" stroke="#444" stroke-width="1"/>
<path d="M923.5,1609 Q929.5,1614 935.5,1609" fill="none" stroke="#444" stroke-width="1"/>
<path d="M346,1324 Q352,1329 358,1324" fill="none" stroke="#444" stroke-width="1"/>
<path d="M364,1324 Q370,1329 376,1324" fill="none" stroke="#444" stroke-width="1"/>
<path d="M387,1324 Q393,1329 399,1324" fill="none" stroke="#444" stroke-width="1"/>
<path d="M408,1324 Q414,1329 420,1324" fill="none" stroke="#444" stroke-width="1"/>
<path d="M449,1324 Q455,1329 461,1324" fill="none" stroke="#444" stroke-width="1"/>
<path d="M470,1324 Q476,1329 482,1324" fill="none" stroke="#444" stroke-width="1"/>
<rect x="6" y="1836" width="126" height="21" fill="#e4e4e4"/>
<g id="bt" filter="url(#tb)">
<text x="160.8" y="17.1" fill="#141414">НАПРЯЖЕ ОТ КЛЕММЫ</text>
<text x="170.2" y="32.4" fill="#141414">15, НАПРЯЖЕ ГЛАВНОГ</text>
<text x="167.6" y="47.7" fill="#141414">РЕЛЕ ВКЛЮЧЕНО</text>
<text x="408.70000000000005" y="17.1" fill="#141414">НАПРЯЖЕ ОТ КЛЕММЫ</text>
<text x="418.1" y="32.4" fill="#141414">15, НАПРЯЖЕ ГЛАВНОГ</text>
<text x="415.5" y="47.7" fill="#141414">РЕЛЕ ВКЛЮЧЕНО</text>
<text x="645.2" y="33.0" text-anchor="middle" fill="#141414">НАПРЯЖ</text>
<text x="638.8" y="48.2" text-anchor="middle" fill="#141414">ОТ АККУМ</text>
<text x="748.9000000000001" y="33.0" text-anchor="middle" fill="#141414">НАПРЯЖ</text>
<text x="742.5" y="48.2" text-anchor="middle" fill="#141414">ОТ АККУМ</text>
<text x="852.1" y="33.0" text-anchor="middle" fill="#141414">НАПРЯЖ</text>
<text x="845.6999999999999" y="48.2" text-anchor="middle" fill="#141414">ОТ АККУМ</text>
<text x="117.6" y="67.0" text-anchor="end" fill="#141414">БЛОК ПРЕД</text>
<text x="117.6" y="82.5" text-anchor="end" fill="#141414">ПРАВО СИДЕН</text>
<text x="117.6" y="98.0" text-anchor="end" fill="#141414">(ПОД СИДЕН</text>
<text x="117.6" y="113.5" text-anchor="end" fill="#141414">ПЕРЕД</text>
<text x="117.6" y="129.0" text-anchor="end" fill="#141414">ПАСС)</text>
<text x="338.8" y="85.6" fill="#142030">БЛОК</text>
<text x="338.8" y="101.1" fill="#142030">ПРЕДОХРАН 5</text>
<text x="544.9" y="86.0" fill="#142030">ДЕРЖАТ</text>
<text x="544.9" y="101.5" fill="#142030">ПРЕДОХ</text>
<text x="545.1999999999999" y="117.0" fill="#142030">K</text>
<text x="904.4" y="86.0" fill="#142030">ДЕРЖАТ</text>
<text x="904.4" y="101.5" fill="#142030">ПРЕДОХ</text>
<text x="904.6999999999999" y="117.0" fill="#142030">J</text>
<text x="968.0" y="65.3" fill="#141414">ПРАВЫ ПЕРЕД</text>
<text x="968.0" y="80.35" fill="#141414">БЛОК ПРЕДО</text>
<text x="968.0" y="95.4" fill="#141414">(СПРАВА -</text>
<text x="968.0" y="110.45" fill="#141414">СТОЙКА «A»)</text>
<text x="194.2" y="96.1" fill="#142030">ПРЕД</text>
<text x="194.2" y="111.0" fill="#142030">7</text>
<text x="194.2" y="124.8" fill="#142030">5A</text>
<text x="276.3" y="96.1" fill="#142030">ПРЕДОХ</text>
<text x="276.3" y="111.0" fill="#142030">12</text>
<text x="276.3" y="124.8" fill="#142030">5A</text>
<text x="483.09999999999997" y="96.1" fill="#142030">ПРЕД</text>
<text x="483.09999999999997" y="111.0" fill="#142030">6</text>
<text x="483.09999999999997" y="124.8" fill="#142030">5A</text>
<text x="647.7" y="96.1" fill="#142030">ПРЕД</text>
<text x="647.7" y="111.0" fill="#142030">4</text>
<text x="647.7" y="124.8" fill="#142030">10A</text>
<text x="751.4000000000001" y="96.1" fill="#142030">ПРЕД</text>
<text x="751.4000000000001" y="111.0" fill="#142030">5</text>
<text x="751.4000000000001" y="124.8" fill="#142030">25A</text>
<text x="855.2" y="96.1" fill="#142030">ПРЕД</text>
<text x="855.2" y="111.0" fill="#142030">3</text>
<text x="855.2" y="124.8" fill="#142030">5A</text>
<text x="1139.3" y="453.3" text-anchor="end" fill="#141414">CAN</text>
<text x="1139.3" y="468.8" text-anchor="end" fill="#141414">ШИНА</text>
<text x="1259.0" y="448" fill="#141414">53</text>
<text x="1233.0" y="448.5" text-anchor="end" fill="#141414">ЗЕЛ</text>
<text x="1259.0" y="469" fill="#141414">54</text>
<text x="1233.0" y="469.5" text-anchor="end" fill="#141414">БЕЛ</text>
<text x="1259.0" y="489" fill="#141414">55</text>
<text x="1233.0" y="489.5" text-anchor="end" fill="#141414">ЖЁЛ</text>
<text x="1259.0" y="510" fill="#141414">56</text>
<text x="1259.0" y="530" fill="#141414">57</text>
<text x="1259.0" y="550.5" fill="#141414">58</text>
<text x="1233.0" y="551.0" text-anchor="end" fill="#141414">КРА-БЕЛ</text>
<text x="1294.0" y="458.0" fill="#142030">ФЛЕКСРЕЙ</text>
<text x="1294.0" y="478.8" fill="#142030">FLEXRAY 1</text>
<text x="1294.0" y="499.6" fill="#142030">ПИЛОТНЫЙ ВЫХОД</text>
<text x="1294.0" y="561.5" fill="#142030">КЛЕМ 30</text>
<text x="1259.0" y="571" fill="#777">59</text>
<text x="1259.0" y="591.5" fill="#777">60</text>
<text x="1259.0" y="612" fill="#777">61</text>
<text x="1259.0" y="633" fill="#777">62</text>
<text x="1259.0" y="653.5" fill="#777">63</text>
<text x="1259.0" y="674" fill="#777">64</text>
<text x="1259.0" y="695.5" fill="#777">65</text>
<text x="1259.0" y="716.5" fill="#777">66</text>
<text x="1259.0" y="737" fill="#777">67</text>
<text x="1259.0" y="758" fill="#777">68</text>
<text x="1259.0" y="778" fill="#777">69</text>
<text x="1259.0" y="799" fill="#777">70</text>
<text x="1259.0" y="819" fill="#777">71</text>
<text x="1259.0" y="839.5" fill="#777">72</text>
<text x="1259.0" y="860" fill="#777">73</text>
<text x="1259.0" y="880.5" fill="#777">74</text>
<text x="1259.0" y="901.5" fill="#777">75</text>
<text x="1259.0" y="922" fill="#777">76</text>
<text x="1259.0" y="942" fill="#777">77</text>
<text x="1259.0" y="963" fill="#777">78</text>
<text x="1259.0" y="983.5" fill="#777">79</text>
<text x="1259.0" y="1003" fill="#777">80</text>
<text x="1259.0" y="1024" fill="#777">81</text>
<text x="1259.0" y="1047" fill="#777">82</text>
<text x="1259.0" y="1068" fill="#777">83</text>
<text x="1259.0" y="1088" fill="#777">84</text>
<text x="1259.0" y="1109" fill="#777">85</text>
<text x="1259.0" y="1129.5" fill="#777">86</text>
<text x="1259.0" y="1150" fill="#777">87</text>
<text x="1259.0" y="1170.5" fill="#777">88</text>
<text x="1259.0" y="1191" fill="#777">89</text>
<text x="1259.0" y="1210" fill="#777">90</text>
<text x="1259.0" y="1232.5" fill="#777">91</text>
<text x="1259.0" y="1254" fill="#777">92</text>
<text x="1259.0" y="1274" fill="#777">93</text>
<text x="1259.0" y="1294" fill="#777">94</text>
<text x="1259.0" y="1313" fill="#777">95</text>
<text x="1259.0" y="1335" fill="#777">96</text>
<text x="1259.0" y="1356" fill="#777">97</text>
<text x="1259.0" y="1377" fill="#777">98</text>
<text x="1233.0" y="571.5" text-anchor="end" fill="#2a2a2a">КОР</text>
<text x="1233.0" y="633.5" text-anchor="end" fill="#2a2a2a">КОР-БЕЛ</text>
<text x="1233.0" y="696.0" text-anchor="end" fill="#2a2a2a">КОР</text>
<text x="1233.0" y="717.0" text-anchor="end" fill="#2a2a2a">КОР</text>
<text x="1233.0" y="737.5" text-anchor="end" fill="#2a2a2a">КОР</text>
<text x="1233.0" y="758.5" text-anchor="end" fill="#2a2a2a">ОРА-КОР</text>
<text x="1233.0" y="778.5" text-anchor="end" fill="#2a2a2a">СИН</text>
<text x="1233.0" y="799.5" text-anchor="end" fill="#2a2a2a">КОР</text>
<text x="1233.0" y="819.5" text-anchor="end" fill="#2a2a2a">ЧЁР-СИН</text>
<text x="1233.0" y="840.0" text-anchor="end" fill="#2a2a2a">КОР</text>
<text x="1233.0" y="860.5" text-anchor="end" fill="#2a2a2a">КОР</text>
<text x="1233.0" y="881.0" text-anchor="end" fill="#2a2a2a">КОР</text>
<text x="1233.0" y="902.0" text-anchor="end" fill="#2a2a2a">ОРА-КОР</text>
<text x="1233.0" y="922.5" text-anchor="end" fill="#2a2a2a">ЖЁЛ-ЗЕЛ</text>
<text x="1233.0" y="942.5" text-anchor="end" fill="#2a2a2a">БЕЛ-ЗЕЛ</text>
<text x="1233.0" y="963.5" text-anchor="end" fill="#2a2a2a">ЗЕЛ-ЖЁЛ</text>
<text x="1233.0" y="984.0" text-anchor="end" fill="#2a2a2a">ФИО-БЕЛ</text>
<text x="1233.0" y="1003.5" text-anchor="end" fill="#2a2a2a">ЖЁЛ</text>
<text x="1233.0" y="1068.5" text-anchor="end" fill="#2a2a2a">КРА</text>
<text x="1233.0" y="1109.5" text-anchor="end" fill="#2a2a2a">ОРА</text>
<text x="1233.0" y="1130.0" text-anchor="end" fill="#2a2a2a">СЕР</text>
<text x="1233.0" y="1150.5" text-anchor="end" fill="#2a2a2a">ОРА</text>
<text x="1233.0" y="1171.0" text-anchor="end" fill="#2a2a2a">СЕР</text>
<text x="1233.0" y="1210.5" text-anchor="end" fill="#2a2a2a">ОРА</text>
<text x="1233.0" y="1233.0" text-anchor="end" fill="#2a2a2a">ОРА</text>
<text x="1233.0" y="1254.5" text-anchor="end" fill="#2a2a2a">ОРА</text>
<text x="1233.0" y="1274.5" text-anchor="end" fill="#2a2a2a">ОРА</text>
<text x="1233.0" y="1313.5" text-anchor="end" fill="#2a2a2a">ОРА</text>
<text x="1233.0" y="1335.5" text-anchor="end" fill="#2a2a2a">ОРА</text>
<text x="1233.0" y="1377.5" text-anchor="end" fill="#2a2a2a">КОР</text>
<text x="1105" y="1229.5" text-anchor="end" fill="#3a3a3a">ОРА</text>
<text x="1105" y="1271" text-anchor="end" fill="#3a3a3a">ОРА</text>
<text x="1105" y="1332" text-anchor="end" fill="#3a3a3a">ОРА</text>
<text x="1137" y="769" text-anchor="end" fill="#3a3a3a">CAN ШИНА</text>
<text x="1137" y="912.5" text-anchor="end" fill="#3a3a3a">CAN ШИНА</text>
<text x="1005" y="1079" fill="#3a3a3a" textLength="132" lengthAdjust="spacingAndGlyphs">ПИТАНИЕ ОТ КЛЕММЫ 30 ВХОД</text>
<text x="1294.5" y="581.2" fill="#1a3050" textLength="84" lengthAdjust="spacingAndGlyphs">ЭЛЕКТРОНИКА</text>
<text x="1294.5" y="643.2" fill="#1a3050" textLength="126" lengthAdjust="spacingAndGlyphs">ДАТЧИК ПОЛОЖЕНИЯ СИДЕНЬЯ</text>
<text x="1294.5" y="705.7" fill="#1a3050" textLength="84" lengthAdjust="spacingAndGlyphs">ЭЛЕКТРОНИКА</text>
<text x="1294.5" y="726.7" fill="#1a3050" textLength="84" lengthAdjust="spacingAndGlyphs">ЭЛЕКТРОНИКА</text>
<text x="1294.5" y="747.2" fill="#1a3050" textLength="170" lengthAdjust="spacingAndGlyphs">ДАТЧИК ПОЛОЖЕНИЯ СИДЕНЬЯ</text>
<text x="1294.5" y="768.2" fill="#1a3050" textLength="100" lengthAdjust="spacingAndGlyphs">СИГНАЛ ВЫХОДА</text>
<text x="1294.5" y="788.2" fill="#1a3050" textLength="160" lengthAdjust="spacingAndGlyphs">ДАТЧИК ПОЛОЖЕНИЯ СИДЕНЬЯ</text>
<text x="1294.5" y="809.2" fill="#1a3050" textLength="84" lengthAdjust="spacingAndGlyphs">ЭЛЕКТРОНИКА</text>
<text x="1294.5" y="829.2" fill="#1a3050" textLength="50" lengthAdjust="spacingAndGlyphs">ЭЛЕКТРОНИКА</text>
<text x="1294.5" y="849.7" fill="#1a3050" textLength="84" lengthAdjust="spacingAndGlyphs">ЭЛЕКТРОНИКА</text>
<text x="1294.5" y="870.2" fill="#1a3050" textLength="84" lengthAdjust="spacingAndGlyphs">ЭЛЕКТРОНИКА</text>
<text x="1294.5" y="890.7" fill="#1a3050" textLength="88" lengthAdjust="spacingAndGlyphs">ЭЛЕКТРОНИКА</text>
<text x="1294.5" y="911.7" fill="#1a3050" textLength="90" lengthAdjust="spacingAndGlyphs">ЭЛЕКТРОНИКА</text>
<text x="1294.5" y="932.2" fill="#1a3050" textLength="64" lengthAdjust="spacingAndGlyphs">ЭЛЕКТРОНИКА</text>
<text x="1294.5" y="952.2" fill="#1a3050" textLength="68" lengthAdjust="spacingAndGlyphs">ЭЛЕКТРОНИКА</text>
<text x="1294.5" y="973.2" fill="#1a3050" textLength="92" lengthAdjust="spacingAndGlyphs">ЭЛЕКТРОНИКА</text>
<text x="1294.5" y="993.7" fill="#1a3050" textLength="110" lengthAdjust="spacingAndGlyphs">СИГНАЛ ВЫХОДА</text>
<text x="1294.5" y="1013.2" fill="#1a3050" textLength="104" lengthAdjust="spacingAndGlyphs">СИГНАЛ ВЫХОДА</text>
<text x="1294.5" y="1078.2" fill="#1a3050" textLength="52" lengthAdjust="spacingAndGlyphs">ЭЛЕКТРОНИКА</text>
<text x="1294.5" y="1119.2" fill="#1a3050" textLength="162" lengthAdjust="spacingAndGlyphs">ДАТЧИК ПОЛОЖЕНИЯ СИДЕНЬЯ</text>
<text x="1294.5" y="1139.7" fill="#1a3050" textLength="26" lengthAdjust="spacingAndGlyphs">ЭКРАН</text>
<text x="1294.5" y="1160.2" fill="#1a3050" textLength="168" lengthAdjust="spacingAndGlyphs">ДАТЧИК ПОЛОЖЕНИЯ СИДЕНЬЯ</text>
<text x="1294.5" y="1180.7" fill="#1a3050" textLength="26" lengthAdjust="spacingAndGlyphs">ЭКРАН</text>
<text x="1294.5" y="1220.2" fill="#1a3050" textLength="82" lengthAdjust="spacingAndGlyphs">ЭЛЕКТРОНИКА</text>
<text x="1294.5" y="1242.7" fill="#1a3050" textLength="26" lengthAdjust="spacingAndGlyphs">ЭКРАН</text>
<text x="1294.5" y="1264.2" fill="#1a3050" textLength="82" lengthAdjust="spacingAndGlyphs">ЭЛЕКТРОНИКА</text>
<text x="1294.5" y="1284.2" fill="#1a3050" textLength="26" lengthAdjust="spacingAndGlyphs">ЭКРАН</text>
<text x="1294.5" y="1323.2" fill="#1a3050" textLength="84" lengthAdjust="spacingAndGlyphs">ЭЛЕКТРОНИКА</text>
<text x="1294.5" y="1345.2" fill="#1a3050" textLength="26" lengthAdjust="spacingAndGlyphs">ЭКРАН</text>
<text x="1294.5" y="1387.2" fill="#1a3050" textLength="182" lengthAdjust="spacingAndGlyphs">ДАТЧИК ПОЛОЖЕНИЯ СИДЕНЬЯ</text>
<text x="1312" y="1429" fill="#3a3a3a" textLength="162" lengthAdjust="spacingAndGlyphs">БЛОК УПРАВЛЕНИЯ СИДЕНЬЕМ</text>
<text x="1292" y="1443" fill="#3a3a3a" textLength="186" lengthAdjust="spacingAndGlyphs">ПЕРЕДНЕГО ПАССАЖИРА СПРАВА</text>
<text x="42" y="737.0" fill="#3a3a3a" textLength="54" lengthAdjust="spacingAndGlyphs">КРА-СЕР</text>
<text x="42" y="943.5" fill="#3a3a3a" textLength="55" lengthAdjust="spacingAndGlyphs">ЧЁР-СИН</text>
<text x="42" y="1026.5" fill="#3a3a3a" textLength="25" lengthAdjust="spacingAndGlyphs">ЗЕЛ</text>
<text x="42" y="1067.5" fill="#3a3a3a" textLength="55" lengthAdjust="spacingAndGlyphs">ЧЁР-СИН</text>
<text x="42" y="1111.0" fill="#2a2a2a" textLength="26" lengthAdjust="spacingAndGlyphs">ОРА</text>
<text x="42" y="1131.5" fill="#2a2a2a" textLength="26" lengthAdjust="spacingAndGlyphs">СЕР</text>
<text x="42" y="1152.0" fill="#2a2a2a" textLength="26" lengthAdjust="spacingAndGlyphs">ОРА</text>
<text x="42" y="1172.5" fill="#2a2a2a" textLength="26" lengthAdjust="spacingAndGlyphs">СЕР</text>
<text x="22" y="747.5" fill="#666" font-size="10">1</text>
<text x="22" y="954" fill="#666" font-size="10">2</text>
<text x="22" y="1037" fill="#666" font-size="10">3</text>
<text x="22" y="1078" fill="#666" font-size="10">4</text>
<text x="22" y="1120" fill="#666" font-size="10">5</text>
<text x="22" y="1140.5" fill="#666" font-size="10">6</text>
<text x="22" y="1161" fill="#666" font-size="10">7</text>
<text x="22" y="1181.5" fill="#666" font-size="10">8</text>
<text x="736" y="707" text-anchor="end" fill="#3a3a3a">СЕР</text>
<text x="603" y="722" fill="#3a3a3a" textLength="132" lengthAdjust="spacingAndGlyphs">ДАТЧИК ЗАНЯТОСТИ СИДЕНЬЯ</text>
<text x="641" y="737" fill="#3a3a3a" textLength="94" lengthAdjust="spacingAndGlyphs">ПЕРЕДНЕГО ПАССАЖИРА</text>
<text x="813" y="696" fill="#3a3a3a" font-size="10">3</text>
<text x="834" y="696" fill="#3a3a3a">ЗЕЛ</text>
<text x="1022" y="1388" text-anchor="end" fill="#3a3a3a">КОР</text>
<text x="940" y="1404" fill="#3a3a3a" textLength="80" lengthAdjust="spacingAndGlyphs">ДАТЧИК ТЕМПЕРАТУРЫ</text>
<text x="980" y="1419" fill="#3a3a3a" textLength="40" lengthAdjust="spacingAndGlyphs">СИДЕНЬЯ</text>
<text x="928" y="1434" fill="#3a3a3a" textLength="92" lengthAdjust="spacingAndGlyphs">ПЕРЕДНЕГО ПАССАЖИРА</text>
<text x="1103" y="1376" fill="#3a3a3a" font-size="10">1</text>
<text x="973" y="1500" fill="#3a3a3a">СЕР</text>
<text x="1017" y="1500" fill="#3a3a3a" font-size="10">1</text>
<text x="1097" y="1512" fill="#3a3a3a" textLength="38" lengthAdjust="spacingAndGlyphs">МАССА</text>
<text x="568" y="1442" text-anchor="middle" fill="#3a3a3a">CAN</text>
<text x="568" y="1457" text-anchor="middle" fill="#3a3a3a">ШИНА</text>
<text x="340" y="1606" fill="#555" font-size="9">10</text>
<text x="358" y="1606" fill="#555" font-size="9">10</text>
<text x="381" y="1606" fill="#555" font-size="9">10</text>
<text x="402" y="1606" fill="#555" font-size="9">10</text>
<text x="443" y="1606" fill="#555" font-size="9">10</text>
<text x="464" y="1606" fill="#555" font-size="9">10</text>
<text x="505" y="1606" fill="#555" font-size="9">10</text>
<text x="545" y="1606" fill="#555" font-size="9">10</text>
<text x="567" y="1606" fill="#555" font-size="9">10</text>
<text x="608.5" y="1606" fill="#555" font-size="9">10</text>
<text x="711.5" y="1606" fill="#555" font-size="9">10</text>
<text x="732" y="1606" fill="#555" font-size="9">10</text>
<text x="752.5" y="1606" fill="#555" font-size="9">10</text>
<text x="794" y="1606" fill="#555" font-size="9">10</text>
<text x="835" y="1606" fill="#555" font-size="9">10</text>
<text x="876" y="1606" fill="#555" font-size="9">10</text>
<text x="917.5" y="1606" fill="#555" font-size="9">10</text>
<text x="340" y="1320" fill="#555" font-size="9">10</text>
<text x="358" y="1320" fill="#555" font-size="9">10</text>
<text x="381" y="1320" fill="#555" font-size="9">10</text>
<text x="402" y="1320" fill="#555" font-size="9">10</text>
<text x="443" y="1320" fill="#555" font-size="9">10</text>
<text x="464" y="1320" fill="#555" font-size="9">10</text>
<text x="551" y="1837.5" fill="#3a3a3a" textLength="175" lengthAdjust="spacingAndGlyphs">БЛОК УПРАВЛЕНИЯ СИДЕНЬЕМ</text>
<text x="15" y="1847.5" fill="#888" font-size="11" textLength="112" lengthAdjust="spacingAndGlyphs">E000000000000 (ID)</text>
</g>
<g id="btr" filter="url(#tbr)">
<text transform="translate(178.9,169.3) rotate(-90)" text-anchor="end" fill="#141414">7A</text>
<text transform="translate(178.9,202.6) rotate(-90)" text-anchor="end" fill="#141414">ЧЁР-СИН</text>
<text transform="translate(261.0,169.3) rotate(-90)" text-anchor="end" fill="#141414">12A</text>
<text transform="translate(261.0,202.6) rotate(-90)" text-anchor="end" fill="#141414">ЧЁР-СИН</text>
<text transform="translate(467.79999999999995,169.3) rotate(-90)" text-anchor="end" fill="#141414">6A</text>
<text transform="translate(467.79999999999995,212.2) rotate(-90)" text-anchor="end" fill="#141414">ЧЁР-СИН</text>
<text transform="translate(632.4,169.3) rotate(-90)" text-anchor="end" fill="#141414">4A</text>
<text transform="translate(632.4,203.3) rotate(-90)" text-anchor="end" fill="#141414">КРА-СЕР</text>
<text transform="translate(736.1,169.3) rotate(-90)" text-anchor="end" fill="#141414">5A</text>
<text transform="translate(736.1,203.1) rotate(-90)" text-anchor="end" fill="#141414">КРА</text>
<text transform="translate(839.9,169.3) rotate(-90)" text-anchor="end" fill="#141414">3A</text>
<text transform="translate(839.9,203.1) rotate(-90)" text-anchor="end" fill="#141414">КРА-БЕЛ</text>
<text transform="translate(343,1243) rotate(-90)" text-anchor="end" fill="#3a3a3a" textLength="54" lengthAdjust="spacingAndGlyphs">ЗЕЛ-ЖЁЛ</text>
<text transform="translate(361,1243) rotate(-90)" text-anchor="end" fill="#3a3a3a" textLength="54" lengthAdjust="spacingAndGlyphs">ЗЕЛ-ЖЁЛ</text>
<text transform="translate(384,1243) rotate(-90)" text-anchor="end" fill="#3a3a3a" textLength="54" lengthAdjust="spacingAndGlyphs">ЗЕЛ-ЖЁЛ</text>
<text transform="translate(405,1243) rotate(-90)" text-anchor="end" fill="#3a3a3a" textLength="54" lengthAdjust="spacingAndGlyphs">ЗЕЛ-ЖЁЛ</text>
<text transform="translate(446,1243) rotate(-90)" text-anchor="end" fill="#3a3a3a" textLength="54" lengthAdjust="spacingAndGlyphs">ЗЕЛ-ЖЁЛ</text>
<text transform="translate(467,1243) rotate(-90)" text-anchor="end" fill="#3a3a3a" textLength="54" lengthAdjust="spacingAndGlyphs">ЗЕЛ-ЖЁЛ</text>
<text transform="translate(343,1531) rotate(-90)" text-anchor="end" fill="#3a3a3a" textLength="55" lengthAdjust="spacingAndGlyphs">ЗЕЛ-ЖЁЛ</text>
<text transform="translate(361,1531) rotate(-90)" text-anchor="end" fill="#3a3a3a" textLength="55" lengthAdjust="spacingAndGlyphs">ЗЕЛ-ЖЁЛ</text>
<text transform="translate(384,1531) rotate(-90)" text-anchor="end" fill="#3a3a3a" textLength="55" lengthAdjust="spacingAndGlyphs">ЗЕЛ-ЖЁЛ</text>
<text transform="translate(405,1531) rotate(-90)" text-anchor="end" fill="#3a3a3a" textLength="55" lengthAdjust="spacingAndGlyphs">ЗЕЛ-ЖЁЛ</text>
<text transform="translate(446,1531) rotate(-90)" text-anchor="end" fill="#3a3a3a" textLength="55" lengthAdjust="spacingAndGlyphs">ЗЕЛ-ЖЁЛ</text>
<text transform="translate(467,1531) rotate(-90)" text-anchor="end" fill="#3a3a3a" textLength="55" lengthAdjust="spacingAndGlyphs">ЗЕЛ-ЖЁЛ</text>
<text transform="translate(508,1273) rotate(-90)" text-anchor="end" fill="#3a3a3a" textLength="24" lengthAdjust="spacingAndGlyphs">КРА</text>
<text transform="translate(508,1560) rotate(-90)" text-anchor="end" fill="#3a3a3a" textLength="24" lengthAdjust="spacingAndGlyphs">КРА</text>
<text transform="translate(548,1531) rotate(-90)" text-anchor="end" fill="#3a3a3a" textLength="55" lengthAdjust="spacingAndGlyphs">ОРА-КОР</text>
<text transform="translate(570,1531) rotate(-90)" text-anchor="end" fill="#3a3a3a" textLength="55" lengthAdjust="spacingAndGlyphs">ОРА-КОР</text>
<text transform="translate(611.5,1560) rotate(-90)" text-anchor="end" fill="#3a3a3a" textLength="24" lengthAdjust="spacingAndGlyphs">КОР</text>
<text transform="translate(714.5,1560) rotate(-90)" text-anchor="end" fill="#3a3a3a" textLength="24" lengthAdjust="spacingAndGlyphs">ОРА</text>
<text transform="translate(735,1560) rotate(-90)" text-anchor="end" fill="#3a3a3a" textLength="24" lengthAdjust="spacingAndGlyphs">ОРА</text>
<text transform="translate(755.5,1560) rotate(-90)" text-anchor="end" fill="#3a3a3a" textLength="24" lengthAdjust="spacingAndGlyphs">ОРА</text>
<text transform="translate(797,1560) rotate(-90)" text-anchor="end" fill="#3a3a3a" textLength="24" lengthAdjust="spacingAndGlyphs">ОРА</text>
<text transform="translate(838,1560) rotate(-90)" text-anchor="end" fill="#3a3a3a" textLength="24" lengthAdjust="spacingAndGlyphs">ОРА</text>
<text transform="translate(879,1560) rotate(-90)" text-anchor="end" fill="#3a3a3a" textLength="24" lengthAdjust="spacingAndGlyphs">ОРА</text>
<text transform="translate(920.5,1560) rotate(-90)" text-anchor="end" fill="#3a3a3a" textLength="24" lengthAdjust="spacingAndGlyphs">ОРА</text>
<text transform="translate(354.5,1621) rotate(-90)" text-anchor="end" fill="#304964" textLength="98" lengthAdjust="spacingAndGlyphs">ВЫХОД СИГНАЛА</text>
<text transform="translate(375.0,1621) rotate(-90)" text-anchor="end" fill="#304964" textLength="74" lengthAdjust="spacingAndGlyphs">ВЫХОД СИГ</text>
<text transform="translate(396.3,1621) rotate(-90)" text-anchor="end" fill="#304964" textLength="65" lengthAdjust="spacingAndGlyphs">ВЫХОД СИ</text>
<text transform="translate(416.1,1652) rotate(-90)" text-anchor="end" fill="#304964" textLength="80" lengthAdjust="spacingAndGlyphs">ВЫХОД СИГН</text>
<text transform="translate(457.9,1621) rotate(-90)" text-anchor="end" fill="#304964" textLength="170" lengthAdjust="spacingAndGlyphs">ВЫХОД СИГНАЛА ДАТЧИКА </text>
<text transform="translate(478.5,1621) rotate(-90)" text-anchor="end" fill="#304964" textLength="130" lengthAdjust="spacingAndGlyphs">ВЫХОД СИГНАЛА ДАТ</text>
<text transform="translate(519.5,1621) rotate(-90)" text-anchor="end" fill="#304964" textLength="54" lengthAdjust="spacingAndGlyphs">ВЫХОД С</text>
<text transform="translate(561.5,1621) rotate(-90)" text-anchor="end" fill="#304964" textLength="104" lengthAdjust="spacingAndGlyphs">ВЫХОД СИГНАЛА</text>
<text transform="translate(581.5,1621) rotate(-90)" text-anchor="end" fill="#304964" textLength="90" lengthAdjust="spacingAndGlyphs">ВЫХОД СИГНАЛ</text>
<text transform="translate(624.5,1621) rotate(-90)" text-anchor="end" fill="#304964" textLength="89" lengthAdjust="spacingAndGlyphs">ВЫХОД СИГНА</text>
<text transform="translate(725.5,1621) rotate(-90)" text-anchor="end" fill="#304964" textLength="30" lengthAdjust="spacingAndGlyphs">ВЫХО</text>
<text transform="translate(746.5,1621) rotate(-90)" text-anchor="end" fill="#304964" textLength="28" lengthAdjust="spacingAndGlyphs">ВЫХ</text>
<text transform="translate(767.5,1621) rotate(-90)" text-anchor="end" fill="#304964" textLength="30" lengthAdjust="spacingAndGlyphs">ВЫХО</text>
<text transform="translate(809.5,1621) rotate(-90)" text-anchor="end" fill="#304964" textLength="46" lengthAdjust="spacingAndGlyphs">ВЫХОД </text>
<text transform="translate(849.5,1621) rotate(-90)" text-anchor="end" fill="#304964" textLength="46" lengthAdjust="spacingAndGlyphs">ВЫХОД </text>
<text transform="translate(891.5,1621) rotate(-90)" text-anchor="end" fill="#304964" textLength="36" lengthAdjust="spacingAndGlyphs">ВЫХО</text>
<text transform="translate(934.0,1621) rotate(-90)" text-anchor="end" fill="#304964" textLength="198" lengthAdjust="spacingAndGlyphs">ВЫХОД СИГНАЛА ДАТЧИКА ПОЛО</text>
</g>
</svg></div>
</body></html>
